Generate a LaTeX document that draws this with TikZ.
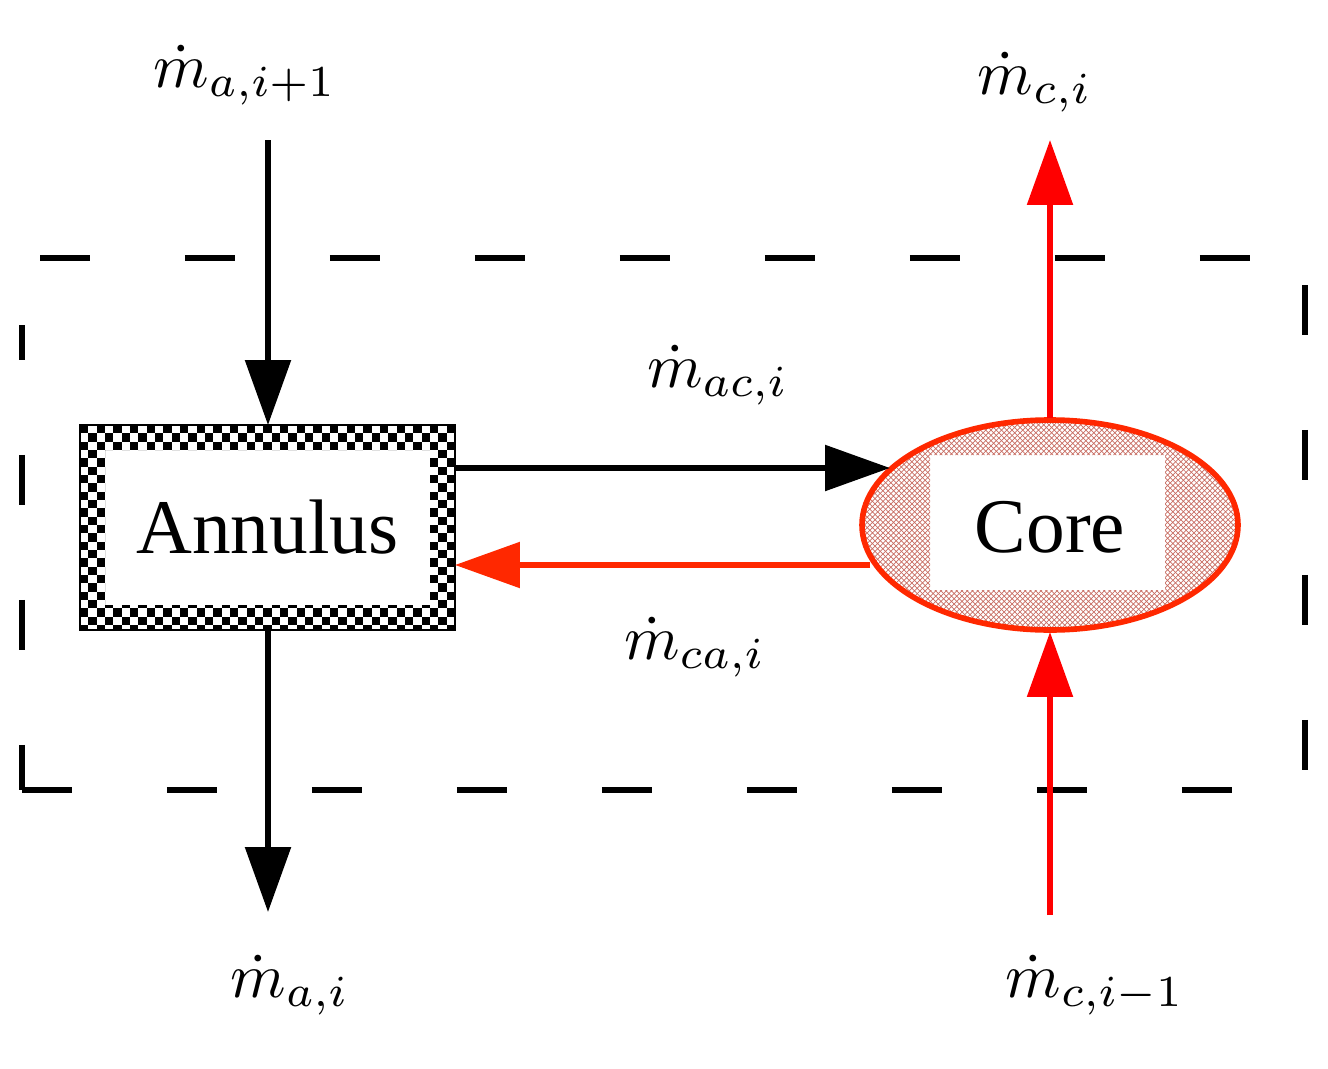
\documentclass[tikz,border=0pt]{standalone}
\usepackage{fontspec}
\setmainfont{Liberation Serif}
\usetikzlibrary{arrows.meta,patterns,shapes.geometric}
\definecolor{rd}{RGB}{255,40,0}
\definecolor{rr}{RGB}{255,0,0}
\definecolor{hatch}{RGB}{200,110,100}
\begin{document}
\begin{tikzpicture}[x=0.02cm,y=-0.02cm,
  flow/.style={line width=3.2pt,-{Triangle[length=1.3cm,width=0.9cm]}},
  lab/.style={inner sep=0pt},
  dsh/.style={line width=3.2pt,dash pattern=on 1.0cm off 1.9cm}]
\useasboundingbox (0,0) rectangle (1328,1068);
% dashed box
\draw[dsh] (40,258) -- (1250,258);
\draw[dsh] (22,790) -- (1290,790);
\draw[dsh,dash phase=0.3cm] (22,325) -- (22,790);
\draw[dsh] (1305,285) -- (1305,780);
% annulus checker border
\begin{scope}[even odd rule]
\clip (80,425) rectangle (455,630) (105,450) rectangle (430,605);
\foreach \i in {0,...,44}{\foreach \j in {0,...,24}{
  \pgfmathparse{int(mod(\i+\j,2))}
  \ifnum\pgfmathresult=0 \fill (80+\i*8.333,425+\j*8.333) rectangle ++(8.333,8.333);\fi}}
\end{scope}
\draw[line width=1.5pt] (80,425) rectangle (455,630);
\node[inner sep=0pt,font=\fontsize{44}{50}\selectfont] (annt) at (267.5,527) {Annulus};
% core
\begin{scope}[even odd rule]
\clip (1050,525) ellipse [x radius=188,y radius=105] (930,455) rectangle (1165,590);
\fill[pattern=crosshatch,pattern color=hatch] (860,410) rectangle (1240,640);
\end{scope}
\draw[rd,line width=3.2pt] (1050,525) ellipse [x radius=188,y radius=105];
\node[font=\fontsize{44}{50}\selectfont,inner sep=0pt] (ct) at (1050,527) {Core};
% coordinates
\coordinate (t1) at (268,140);
\coordinate (a1) at (268,425);
\coordinate (a2) at (268,630);
\coordinate (b1) at (268,912);
\coordinate (h1) at (455,468);
\coordinate (h2) at (890,468);
\coordinate (g1) at (870,565);
\coordinate (g2) at (455,565);
\coordinate (c1) at (1050,418);
\coordinate (c2) at (1050,140);
\coordinate (d1) at (1050,915);
\coordinate (d2) at (1050,632);
\draw[flow] (t1) -- (a1);
\draw[flow] (a2) -- (b1);
\draw[flow] (h1) -- (h2);
\draw[flow,rd] (g1) -- (g2);
\draw[flow,rr] (c1) -- (c2);
\draw[flow,rr] (d1) -- (d2);
% labels
\node[lab] (l1) at (245,75) {\scalebox{3.6}{$\dot m_{a,i+1}$}};
\node[lab] (l2) at (1035,82) {\scalebox{3.6}{$\dot m_{c,i}$}};
\node[lab] (l3) at (718,375) {\scalebox{3.6}{$\dot m_{ac,i}$}};
\node[lab] (l4) at (695,647) {\scalebox{3.6}{$\dot m_{ca,i}$}};
\node[lab] (l5) at (290,985) {\scalebox{3.6}{$\dot m_{a,i}$}};
\node[lab] (l6) at (1095,985) {\scalebox{3.6}{$\dot m_{c,i-1}$}};
\end{tikzpicture}
\end{document}
